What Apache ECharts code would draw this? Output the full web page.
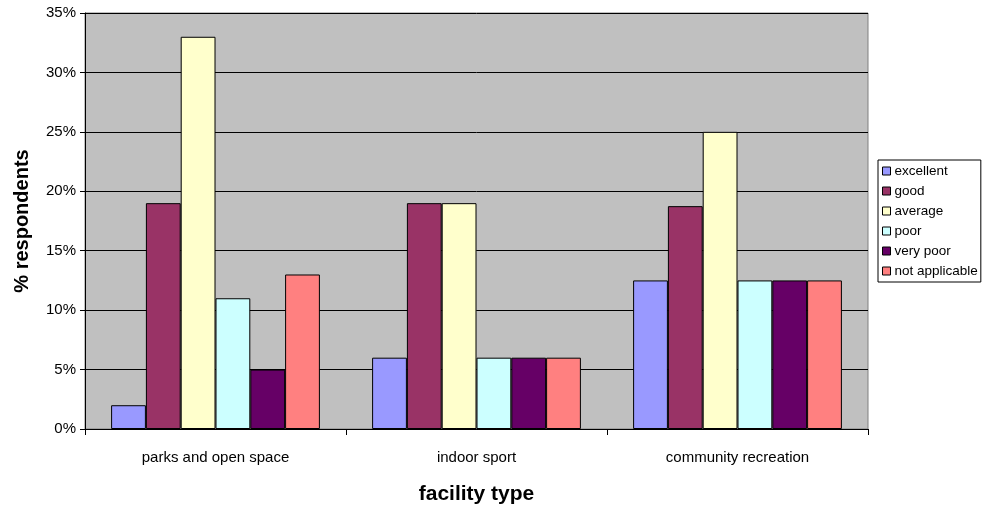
<!DOCTYPE html>
<html>
<head>
<meta charset="utf-8">
<script src="https://cdn.jsdelivr.net/npm/echarts@6/dist/echarts.min.js"></script>
<style>
  html, body { margin: 0; padding: 0; background: #ffffff; }
  #chart { width: 992px; height: 511px; }
</style>
</head>
<body>
<div id="chart"></div>
<script>
// Facility ratings survey (% of respondents)
const categories = ['parks and open space', 'indoor sport', 'community recreation'];
const ratings = ['excellent', 'good', 'average', 'poor', 'very poor', 'not applicable'];
const excellent = [2, 6, 12.5];
const good = [19, 19, 18.75];
const average = [33, 19, 25];
const poor = [11, 6, 12.5];
const veryPoor = [5, 6, 12.5];
const notApplicable = [13, 6, 12.5];
const yTicks = [0, 5, 10, 15, 20, 25, 30, 35];

const seriesValues = [excellent, good, average, poor, veryPoor, notApplicable];
const colors = ['#9999FF', '#993366', '#FFFFCC', '#CCFFFF', '#660066', '#FF8080'];
const font = '"Liberation Sans", Arial, sans-serif';

const chart = echarts.init(document.getElementById('chart'), null, { renderer: 'canvas' });

chart.setOption({
  animation: false,
  color: colors,
  grid: {
    left: 85, right: 124, top: 13, bottom: 82,
    outerBoundsMode: 'none',
    containLabel: false,
    show: true,
    backgroundColor: '#C0C0C0',
    borderColor: '#808080',
    borderWidth: 1
  },
  legend: {
    orient: 'vertical',
    left: 878, top: 160,
    itemWidth: 8, itemHeight: 8, itemGap: 6,
    icon: 'rect',
    padding: [4, 3, 4, 4],
    borderColor: '#000000', borderWidth: 1,
    backgroundColor: '#ffffff',
    textStyle: { fontFamily: font, fontSize: 13.5, lineHeight: 14, color: '#000000', padding: [0, 0, 0, -1] },
    itemStyle: { borderColor: '#000000', borderWidth: 1 },
    data: ratings
  },
  xAxis: {
    type: 'category',
    data: categories,
    name: 'facility type',
    nameLocation: 'middle',
    nameGap: 55,
    nameTextStyle: { fontFamily: font, fontSize: 21, fontWeight: 'bold', color: '#000000' },
    axisLine: { lineStyle: { color: '#000000', width: 1 } },
    axisTick: { show: true, length: 6, lineStyle: { color: '#000000' } },
    axisLabel: { fontFamily: font, fontSize: 15, color: '#000000', margin: 21 }
  },
  yAxis: {
    type: 'value',
    min: yTicks[0],
    max: yTicks[yTicks.length - 1],
    interval: 5,
    name: '% respondents',
    nameLocation: 'middle',
    nameRotate: 90,
    nameGap: 53,
    nameTextStyle: { fontFamily: font, fontSize: 20, fontWeight: 'bold', color: '#000000' },
    axisLine: { show: true, lineStyle: { color: '#000000', width: 1 } },
    axisTick: { show: true, length: 5, lineStyle: { color: '#000000' } },
    axisLabel: { fontFamily: font, fontSize: 15, color: '#000000', margin: 9, formatter: v => v + '%' },
    splitLine: { show: true, lineStyle: { color: '#000000', width: 1 } }
  },
  series: ratings.map((name, i) => ({
    name: name,
    type: 'bar',
    data: seriesValues[i],
    barGap: '0%',
    barCategoryGap: '20%',
    itemStyle: { color: colors[i], borderColor: '#000000', borderWidth: 1 }
  }))
});
</script>
</body>
</html>
